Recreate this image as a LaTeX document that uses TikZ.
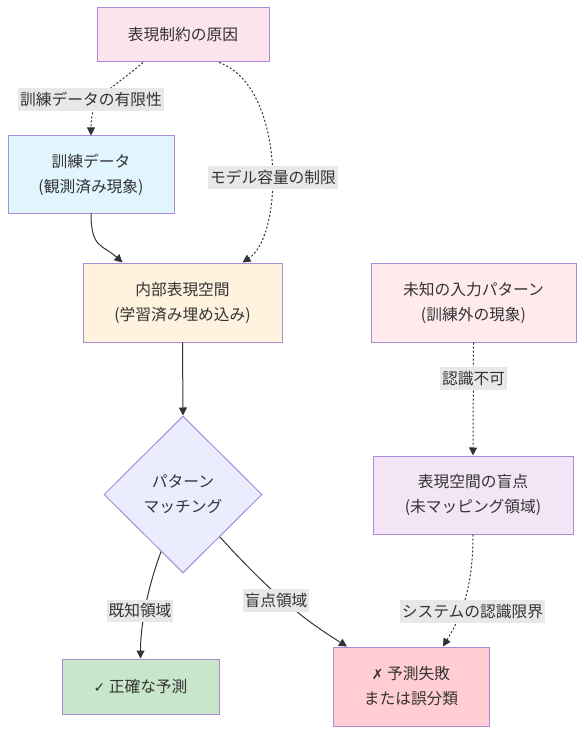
\documentclass[tikz,border=0pt]{standalone}
\usepackage{fontspec}
\usetikzlibrary{shapes.geometric,arrows.meta}

\newfontfamily\jpfont{Noto Sans CJK JP}
\newfontfamily\symfont{DejaVu Sans}

\definecolor{ink}{HTML}{333333}
\definecolor{boxline}{HTML}{A98BD6}
\definecolor{lblgray}{HTML}{E8E8E8}
\definecolor{causepink}{HTML}{FCE4EC}
\definecolor{datablue}{HTML}{E1F5FE}
\definecolor{spaceorange}{HTML}{FFF3E0}
\definecolor{unknownpink}{HTML}{FFEBEE}
\definecolor{matchlav}{HTML}{ECECFF}
\definecolor{blindpurple}{HTML}{F3E5F5}
\definecolor{okgreen}{HTML}{C8E6C9}
\definecolor{failred}{HTML}{FFCDD2}

\tikzset{
  box/.style={draw=boxline, line width=0.75pt, text=ink, align=center,
    inner sep=0pt, font=\jpfont\fontsize{11.8pt}{18.75pt}\selectfont},
  decision/.style={box, diamond, aspect=1, draw=boxline, fill=matchlav,
    minimum width=118.5pt, minimum height=117.75pt},
  lbl/.style={fill=lblgray, text=ink, inner xsep=1.5pt, inner ysep=0pt,
    minimum height=17pt, font=\jpfont\fontsize{11.8pt}{14pt}\selectfont},
  flow/.style={draw=ink, line width=0.75pt, -{Triangle[length=6pt,width=6pt]}},
  weak/.style={flow, dash pattern=on 1.5pt off 1.5pt},
}

\begin{document}
\begin{tikzpicture}[x=0.75pt, y=-0.75pt]

    \useasboundingbox (0,0) rectangle (583,734);

    %% Causes of the representation limit

    % Boxes
    \node[box, fill=causepink, minimum width=129pt, minimum height=40.5pt]
      (cause) at (183,35) {表現制約の原因};
    \node[box, fill=datablue, minimum width=124.5pt, minimum height=57.75pt]
      (data) at (91,174.5) {訓練データ\\(観測済み現象)};
    \node[box, fill=spaceorange, minimum width=149.25pt, minimum height=59.25pt]
      (space) at (182.5,302.5) {内部表現空間\\(学習済み埋め込み)};
    \node[box, fill=unknownpink, minimum width=153.75pt, minimum height=59.25pt]
      (unknown) at (473.5,302.5) {未知の入力パターン\\(訓練外の現象)};
    \node[decision] (match) at (183,494.5) {パターン\\マッチング};
    \node[box, fill=blindpurple, minimum width=150pt, minimum height=58.5pt]
      (blind) at (473,495) {表現空間の盲点\\(未マッピング領域)};
    \node[box, fill=okgreen, minimum width=117.75pt, minimum height=41.25pt]
      (ok) at (140.5,686.5) {{\symfont\fontsize{10.5pt}{10.5pt}\selectfont ✓} 正確な予測};
    \node[box, fill=failred, minimum width=117pt, minimum height=59.25pt]
      (fail) at (411,686.5) {{\symfont\fontsize{10.5pt}{10.5pt}\selectfont ✗} 予測失敗\\または誤分類};

    % Connectors
    \draw[weak] ([xshift=-30pt]cause.south) .. controls +(-35,30) and +(0,-40) .. (data.north);
    \draw[weak] ([xshift=27pt]cause.south) .. controls +(66,23) and +(42,-28) .. ([xshift=45pt]space.north);
    \draw[flow] (data.south) .. controls +(0,35) and +(-20,-18) .. ([xshift=-45pt]space.north);
    \draw[flow] (space.south) -- (match.north);
    \draw[weak] (unknown.south) -- (blind.north);
    \draw[flow] (match.-111) .. controls +(-15,40) and +(0,-30) .. (ok.north);
    \draw[flow] (match.-49) .. controls +(60,66) and +(-35,-22) .. ([xshift=-48pt]fail.north);
    \draw[weak] (blind.south) .. controls +(0,60) and +(15,-25) .. ([xshift=24pt]fail.north);

    % Labels
    \node[lbl] (finite) at (91,99.5) {訓練データの有限性};
    \node[lbl] (capacity) at (273,177.5) {モデル容量の制限};
    \node[lbl] (unseen) at (473.5,378.5) {認識不可};
    \node[lbl] (known) at (140,611) {既知領域};
    \node[lbl] (gap) at (276,600.5) {盲点領域};
    \node[lbl] (limit) at (472.5,611.5) {システムの認識限界};

\end{tikzpicture}
\end{document}
